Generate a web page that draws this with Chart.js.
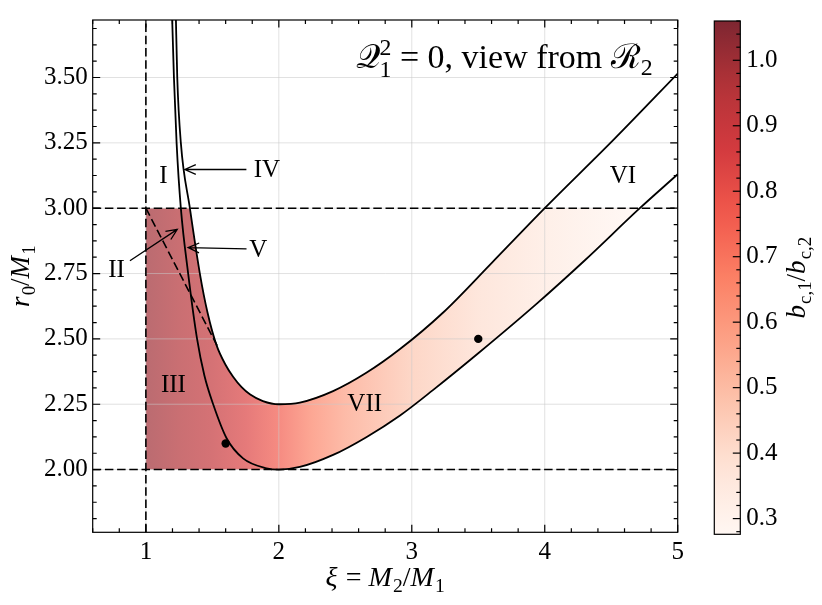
<!DOCTYPE html>
<html>
<head>
<meta charset="utf-8">
<script src="https://cdn.jsdelivr.net/npm/chart.js@4.4.0/dist/chart.umd.min.js"></script>
<style>
html, body { margin: 0; padding: 0; background: #fff; }
#wrap { position: relative; width: 822px; height: 605px; }
#main { position: absolute; left: 0; top: 0; }
#cbar { position: absolute; left: 700px; top: 0; }
</style>
</head>
<body>
<div id="wrap">
  <canvas id="main" width="822" height="605" style="width:822px;height:605px"></canvas>
  <canvas id="cbar" width="122" height="605" style="width:122px;height:605px"></canvas>
</div>
<script>
// boundary curves (xi = M2/M1, r = r0/M1)
const upperXi = [1.222, 1.226, 1.236, 1.263, 1.331, 1.406, 1.464, 1.532, 1.60, 1.656, 1.72, 1.782, 1.88, 2.0, 2.158, 2.408, 2.658, 2.909, 3.234, 3.6, 4.0, 4.524, 5.0];
const upperR  = [3.82, 3.72, 3.50, 3.25, 3.00, 2.75, 2.60, 2.475, 2.40, 2.355, 2.315, 2.288, 2.262, 2.25, 2.256, 2.30, 2.37, 2.46, 2.60, 2.79, 3.00, 3.265, 3.515];
const lowerXi = [1.192, 1.198, 1.211, 1.231, 1.263, 1.318, 1.385, 1.44, 1.506, 1.607, 1.731, 1.907, 2.0, 2.158, 2.408, 2.658, 2.909, 3.159, 3.5, 3.936, 4.3, 4.715, 5.0];
const lowerR  = [3.85, 3.72, 3.50, 3.25, 3.00, 2.75, 2.50, 2.36, 2.25, 2.12, 2.043, 2.005, 2.0, 2.010, 2.056, 2.124, 2.206, 2.304, 2.445, 2.633, 2.80, 3.00, 3.13];

// dashed reference lines
const refXi = [1];
const refR = [2, 3];
// dashed split between II and III
const splitXi = [1.0, 1.54];
const splitR = [3.0, 2.47];
// the two marked points
const markXi = [1.6, 3.5];
const markR = [2.1, 2.5];

// b_c1/b_c2 across the shaded band, estimated from the colours
const bcXi  = [1.0, 1.25, 1.5, 1.75, 2.0, 2.25, 2.5, 3.0, 3.5, 4.0, 4.7];
const bcVal = [1.0, 0.96, 0.91, 0.84, 0.76, 0.66, 0.58, 0.47, 0.40, 0.35, 0.28];

// region labels and arrows
const regionNames = ['I', 'II', 'III', 'IV', 'V', 'VI', 'VII'];
const regionXi = [1.132, 0.779, 1.207, 1.91, 1.846, 4.588, 2.646];
const regionR  = [3.096, 2.735, 2.295, 3.12, 2.814, 3.097, 2.225];
const arrowFromXi = [1.756, 1.757, 0.88];
const arrowFromR  = [3.148, 2.844, 2.799];
const arrowToXi   = [1.293, 1.318, 1.236];
const arrowToR    = [3.148, 2.849, 2.919];

// axes
const xRange = [0.6, 5];
const yRange = [1.76, 3.72];
const cbRange = [0.276, 1.06];
const xTicks = [1, 2, 3, 4, 5];
const yTicks = [2.00, 2.25, 2.50, 2.75, 3.00, 3.25, 3.50];
const cbTicks = [0.3, 0.4, 0.5, 0.6, 0.7, 0.8, 0.9, 1.0];

const FONT = '"Liberation Serif", "DejaVu Serif", serif';
Chart.defaults.font.family = FONT;
Chart.defaults.font.size = 25;
Chart.defaults.color = '#000';

const REDS = [[255,245,240],[254,224,210],[252,187,161],[252,146,114],[251,106,74],[239,59,44],[203,24,29],[165,15,21],[103,0,13]];
function cmap(v, alpha) {
  let t = (v - cbRange[0]) / (cbRange[1] - cbRange[0]);
  t = Math.max(0, Math.min(1, t)) * (REDS.length - 1);
  const i = Math.min(Math.floor(t), REDS.length - 2), f = t - i;
  const c = REDS[i].map((a, k) => Math.round(a + (REDS[i + 1][k] - a) * f));
  return `rgba(${c[0]},${c[1]},${c[2]},${alpha})`;
}

const pts = (xs, ys) => xs.map((x, i) => ({x, y: ys[i]}));

// shaded area: x >= 1, 2 <= r <= 3, under the upper curve, left of / above the lower one
const regionPts = [{x: refXi[0], y: refR[0]}, {x: refXi[0], y: refR[1]}];
upperXi.forEach((x, i) => { if (upperR[i] <= refR[1]) regionPts.push({x, y: upperR[i]}); });
for (let i = lowerXi.length - 1; i >= 0; i--) {
  if (lowerXi[i] >= 2 && lowerR[i] <= refR[1]) regionPts.push({x: lowerXi[i], y: lowerR[i]});
}

function bandGradient(ctx) {
  const chart = ctx.chart;
  if (!chart.chartArea) return 'rgba(0,0,0,0)';
  const x = chart.scales.x;
  const p0 = x.getPixelForValue(bcXi[0]), p1 = x.getPixelForValue(bcXi[bcXi.length - 1]);
  const g = chart.ctx.createLinearGradient(p0, 0, p1, 0);
  bcXi.forEach((xi, i) => g.addColorStop((x.getPixelForValue(xi) - p0) / (p1 - p0), cmap(bcVal[i], 0.6)));
  return g;
}

// text with italics, sub- and superscripts
function richWidth(ctx, parts, size) {
  let w = 0;
  parts.forEach(p => {
    if (p.t !== undefined) {
      const s = p.sub || p.sup ? size * 0.7 : size;
      ctx.font = `${p.it ? 'italic ' : ''}${s}px ${FONT}`;
      w += ctx.measureText(p.t).width + (p.it ? size * 0.04 : 0);
    } else {
      ctx.font = `${size * 0.7}px ${FONT}`;
      w += Math.max(ctx.measureText(p.hi).width, ctx.measureText(p.lo).width);
    }
  });
  return w;
}
function drawRich(ctx, parts, x, y, size, align, angle) {
  ctx.save();
  ctx.translate(x, y);
  if (angle) ctx.rotate(angle);
  ctx.fillStyle = '#000';
  ctx.textBaseline = 'alphabetic';
  ctx.textAlign = 'left';
  const w = richWidth(ctx, parts, size);
  let cx = align === 'center' ? -w / 2 : align === 'right' ? -w : 0;
  parts.forEach(p => {
    if (p.t !== undefined) {
      const s = p.sub || p.sup ? size * 0.7 : size;
      const dy = p.sub ? size * 0.22 : p.sup ? -size * 0.38 : 0;
      ctx.font = `${p.it ? 'italic ' : ''}${s}px ${FONT}`;
      ctx.fillText(p.t, cx, dy);
      cx += ctx.measureText(p.t).width + (p.it ? size * 0.04 : 0);
    } else {
      ctx.font = `${size * 0.7}px ${FONT}`;
      ctx.fillText(p.hi, cx, -size * 0.38);
      ctx.fillText(p.lo, cx, size * 0.25);
      cx += Math.max(ctx.measureText(p.hi).width, ctx.measureText(p.lo).width);
    }
  });
  ctx.restore();
}

function arrow(ctx, x0, y0, x1, y1) {
  const ang = Math.atan2(y1 - y0, x1 - x0), len = 12, spread = 0.42;
  ctx.beginPath();
  ctx.moveTo(x0, y0); ctx.lineTo(x1, y1);
  ctx.moveTo(x1 - len * Math.cos(ang - spread), y1 - len * Math.sin(ang - spread));
  ctx.lineTo(x1, y1);
  ctx.lineTo(x1 - len * Math.cos(ang + spread), y1 - len * Math.sin(ang + spread));
  ctx.stroke();
}

function steps(lo, hi, step) {
  const out = [];
  for (let v = lo; v <= hi + 1e-9; v += step) out.push(+v.toFixed(4));
  return out;
}

const decor = {
  id: 'decor',
  afterDatasetDraw(chart, args) {
    if (args.index !== 0) return;
    // grid sits over the shading but under the curves
    const {ctx, chartArea: a, scales: {x, y}} = chart;
    ctx.save();
    ctx.strokeStyle = 'rgba(200,200,200,0.55)';
    ctx.lineWidth = 1;
    xTicks.forEach(v => {
      const p = x.getPixelForValue(v);
      ctx.beginPath(); ctx.moveTo(p, a.top); ctx.lineTo(p, a.bottom); ctx.stroke();
    });
    yTicks.forEach(v => {
      const p = y.getPixelForValue(v);
      ctx.beginPath(); ctx.moveTo(a.left, p); ctx.lineTo(a.right, p); ctx.stroke();
    });
    ctx.restore();
  },
  afterDraw(chart) {
    const {ctx, chartArea: a, scales: {x, y}} = chart;
    ctx.save();
    ctx.strokeStyle = '#000';
    ctx.lineWidth = 1.2;
    ctx.strokeRect(a.left, a.top, a.right - a.left, a.bottom - a.top);
    // inward ticks on all four sides
    const xMinor = steps(xRange[0], xRange[1], 0.2).filter(v => !xTicks.includes(v));
    const yMinor = steps(1.8125, 3.6875, 0.0625).filter(v => !yTicks.includes(v));
    [[xTicks, 7.5], [xMinor, 4]].forEach(([vals, len]) => vals.forEach(v => {
      const p = x.getPixelForValue(v);
      ctx.beginPath();
      ctx.moveTo(p, a.bottom); ctx.lineTo(p, a.bottom - len);
      ctx.moveTo(p, a.top); ctx.lineTo(p, a.top + len);
      ctx.stroke();
    }));
    [[yTicks, 7.5], [yMinor, 4]].forEach(([vals, len]) => vals.forEach(v => {
      const p = y.getPixelForValue(v);
      ctx.beginPath();
      ctx.moveTo(a.left, p); ctx.lineTo(a.left + len, p);
      ctx.moveTo(a.right, p); ctx.lineTo(a.right - len, p);
      ctx.stroke();
    }));
    // arrows and region names
    ctx.lineWidth = 1.3;
    arrowFromXi.forEach((v, i) => arrow(ctx,
      x.getPixelForValue(v), y.getPixelForValue(arrowFromR[i]),
      x.getPixelForValue(arrowToXi[i]), y.getPixelForValue(arrowToR[i])));
    ctx.fillStyle = '#000';
    ctx.font = `25px ${FONT}`;
    ctx.textAlign = 'center';
    ctx.textBaseline = 'alphabetic';
    regionNames.forEach((n, i) => ctx.fillText(n, x.getPixelForValue(regionXi[i]), y.getPixelForValue(regionR[i])));
    ctx.restore();

    drawRich(ctx, [{t: '\u{1D4AC}'}, {hi: '2', lo: '1'}, {t: ' = 0, view from '}, {t: '\u211B'}, {t: '2', sub: true}],
      a.right - 25, a.top + 48, 34, 'right');
    drawRich(ctx, [{t: '\u03BE', it: true}, {t: ' = '}, {t: 'M', it: true}, {t: '2', sub: true}, {t: '/'}, {t: 'M', it: true}, {t: '1', sub: true}],
      (a.left + a.right) / 2, 586, 28, 'center');
    drawRich(ctx, [{t: 'r', it: true}, {t: '0', sub: true}, {t: '/'}, {t: 'M', it: true}, {t: '1', sub: true}],
      29, (a.top + a.bottom) / 2, 27, 'center', -Math.PI / 2);
  }
};

new Chart(document.getElementById('main'), {
  type: 'line',
  data: {
    datasets: [
      {data: regionPts, fill: 'shape', showLine: true, borderWidth: 0, pointRadius: 0, backgroundColor: bandGradient, order: 10},
      {data: pts(upperXi, upperR), borderColor: '#000', borderWidth: 1.8, pointRadius: 0, cubicInterpolationMode: 'monotone', fill: false},
      {data: pts(lowerXi, lowerR), borderColor: '#000', borderWidth: 1.8, pointRadius: 0, cubicInterpolationMode: 'monotone', fill: false},
      {data: [{x: refXi[0], y: yRange[0]}, {x: refXi[0], y: yRange[1]}], borderColor: '#000', borderWidth: 1.6, borderDash: [8.5, 3.7], pointRadius: 0, fill: false},
      ...refR.map(r => ({data: [{x: xRange[0], y: r}, {x: xRange[1], y: r}], borderColor: '#000', borderWidth: 1.6, borderDash: [8.5, 3.7], pointRadius: 0, fill: false})),
      {data: pts(splitXi, splitR), borderColor: '#000', borderWidth: 1.6, borderDash: [8.5, 3.7], pointRadius: 0, fill: false},
      {data: pts(markXi, markR), showLine: false, pointRadius: 4.2, pointBackgroundColor: '#000', pointBorderWidth: 0, fill: false}
    ]
  },
  options: {
    responsive: false,
    animation: false,
    layout: {padding: {left: 0, right: 144.3, top: 11.3, bottom: 0}},
    plugins: {legend: {display: false}, tooltip: {enabled: false}},
    scales: {
      x: {
        type: 'linear', min: xRange[0], max: xRange[1],
        afterBuildTicks: s => { s.ticks = xTicks.map(v => ({value: v})); },
        afterFit: s => { s.height = 72.7; },
        ticks: {padding: 5, callback: v => String(v)},
        grid: {display: false, drawTicks: false},
        border: {display: false}
      },
      y: {
        type: 'linear', min: yRange[0], max: yRange[1],
        afterBuildTicks: s => { s.ticks = yTicks.map(v => ({value: v})); },
        afterFit: s => { s.width = 92.7; },
        ticks: {padding: 5, callback: v => v.toFixed(2)},
        grid: {display: false, drawTicks: false},
        border: {display: false}
      }
    }
  },
  plugins: [decor]
});

// colour bar
const cbDecor = {
  id: 'cbDecor',
  afterDraw(chart) {
    const {ctx, chartArea: a, scales: {y}} = chart;
    ctx.save();
    ctx.strokeStyle = '#000';
    ctx.lineWidth = 1.2;
    ctx.strokeRect(a.left, a.top, a.right - a.left, a.bottom - a.top);
    steps(0.28, 1.06, 0.02).forEach(v => {
      const major = cbTicks.some(t => Math.abs(t - v) < 1e-6);
      const p = y.getPixelForValue(v);
      ctx.beginPath(); ctx.moveTo(a.right, p); ctx.lineTo(a.right - (major ? 7.5 : 4), p); ctx.stroke();
    });
    ctx.restore();
    drawRich(ctx, [{t: 'b', it: true}, {t: 'c,1', sub: true}, {t: '/'}, {t: 'b', it: true}, {t: 'c,2', sub: true}],
      105, (a.top + a.bottom) / 2, 27, 'center', -Math.PI / 2);
  }
};

new Chart(document.getElementById('cbar'), {
  type: 'bar',
  data: {
    labels: [''],
    datasets: [{
      data: [[cbRange[0], cbRange[1]]],
      categoryPercentage: 1, barPercentage: 1, borderWidth: 0,
      backgroundColor: ctx => {
        const chart = ctx.chart;
        if (!chart.chartArea) return 'rgba(0,0,0,0)';
        const y = chart.scales.y;
        const g = chart.ctx.createLinearGradient(0, y.getPixelForValue(cbRange[0]), 0, y.getPixelForValue(cbRange[1]));
        steps(0, 1, 0.05).forEach(f => g.addColorStop(f, cmap(cbRange[0] + f * (cbRange[1] - cbRange[0]), 0.85)));
        return g;
      }
    }]
  },
  options: {
    responsive: false,
    animation: false,
    layout: {padding: {left: 14.3, right: 0, top: 9, bottom: 70.7}},
    plugins: {legend: {display: false}, tooltip: {enabled: false}},
    scales: {
      x: {display: false},
      y: {
        position: 'right', min: cbRange[0], max: cbRange[1],
        afterBuildTicks: s => { s.ticks = cbTicks.map(v => ({value: v})); },
        afterFit: s => { s.width = 81.7; },
        ticks: {padding: 6, callback: v => v.toFixed(1)},
        grid: {display: false, drawTicks: false},
        border: {display: false}
      }
    }
  },
  plugins: [cbDecor]
});
</script>
</body>
</html>
